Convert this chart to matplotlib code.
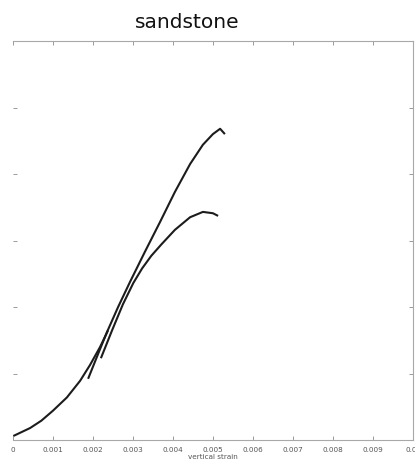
import matplotlib
matplotlib.use("Agg")
import matplotlib.pyplot as plt

# origin (loading) curve
o_strain = [0.0, 0.00042, 0.00070, 0.00099, 0.00134, 0.00167, 0.00192, 0.00217, 0.00237]
o_stress = [0.06, 0.18, 0.29, 0.44, 0.64, 0.89, 1.13, 1.40, 1.65]

# upper curve
u_strain = [0.00187, 0.00209, 0.00234, 0.00262, 0.00292, 0.00329, 0.00367,
            0.00404, 0.00442, 0.00474, 0.00499, 0.00517, 0.00529]
u_stress = [0.92, 1.25, 1.62, 2.00, 2.38, 2.83, 3.28, 3.73, 4.15, 4.44, 4.60, 4.68, 4.60]

# lower curve
l_strain = [0.00219, 0.00247, 0.00274, 0.00300, 0.00322, 0.00345, 0.00370,
            0.00404, 0.00442, 0.00474, 0.00499, 0.00512]
l_stress = [1.23, 1.65, 2.04, 2.36, 2.58, 2.77, 2.94, 3.16, 3.35, 3.43, 3.41, 3.37]

x_ticks = [0, 0.001, 0.002, 0.003, 0.004, 0.005, 0.006, 0.007, 0.008, 0.009, 0.01]
x_tick_labels = ["0", "0.001", "0.002", "0.003", "0.004", "0.005", "0.006",
                 "0.007", "0.008", "0.009", "0.01"]
y_ticks = [1, 2, 3, 4, 5]

fig = plt.figure(figsize=(4.15, 4.62), dpi=100)
ax = fig.add_axes([13.3 / 415, 1 - 440 / 462, 400 / 415, 399 / 462])

lc = "#1c1c1c"
ax.plot(o_strain, o_stress, color=lc, lw=1.5, solid_capstyle="butt")
ax.plot(u_strain, u_stress, color=lc, lw=1.5, solid_capstyle="butt")
ax.plot(l_strain, l_stress, color=lc, lw=1.5, solid_capstyle="butt")

ax.set_xlim(0, 0.01)
ax.set_ylim(0, 6)
ax.set_xticks(x_ticks)
ax.set_xticklabels(x_tick_labels)
ax.set_yticks(y_ticks)
ax.set_yticklabels([])

ax.tick_params(direction="in", length=3, width=0.7, color="#9a9a9a",
               top=True, right=True, labelsize=5.2, labelcolor="#555555", pad=5)
for s in ["top", "bottom", "right"]:
    ax.spines[s].set_color("#a8a8a8")
    ax.spines[s].set_linewidth(0.8)
ax.spines["left"].set_visible(False)

ax.set_xlabel("vertical strain", fontsize=5.2, color="#555555", labelpad=0.5)

fig.text(187 / 415, 1 - 22 / 462, "sandstone", ha="center", va="center",
         fontsize=14.5, color="#111111")

fig.savefig("out.png", dpi=100)
